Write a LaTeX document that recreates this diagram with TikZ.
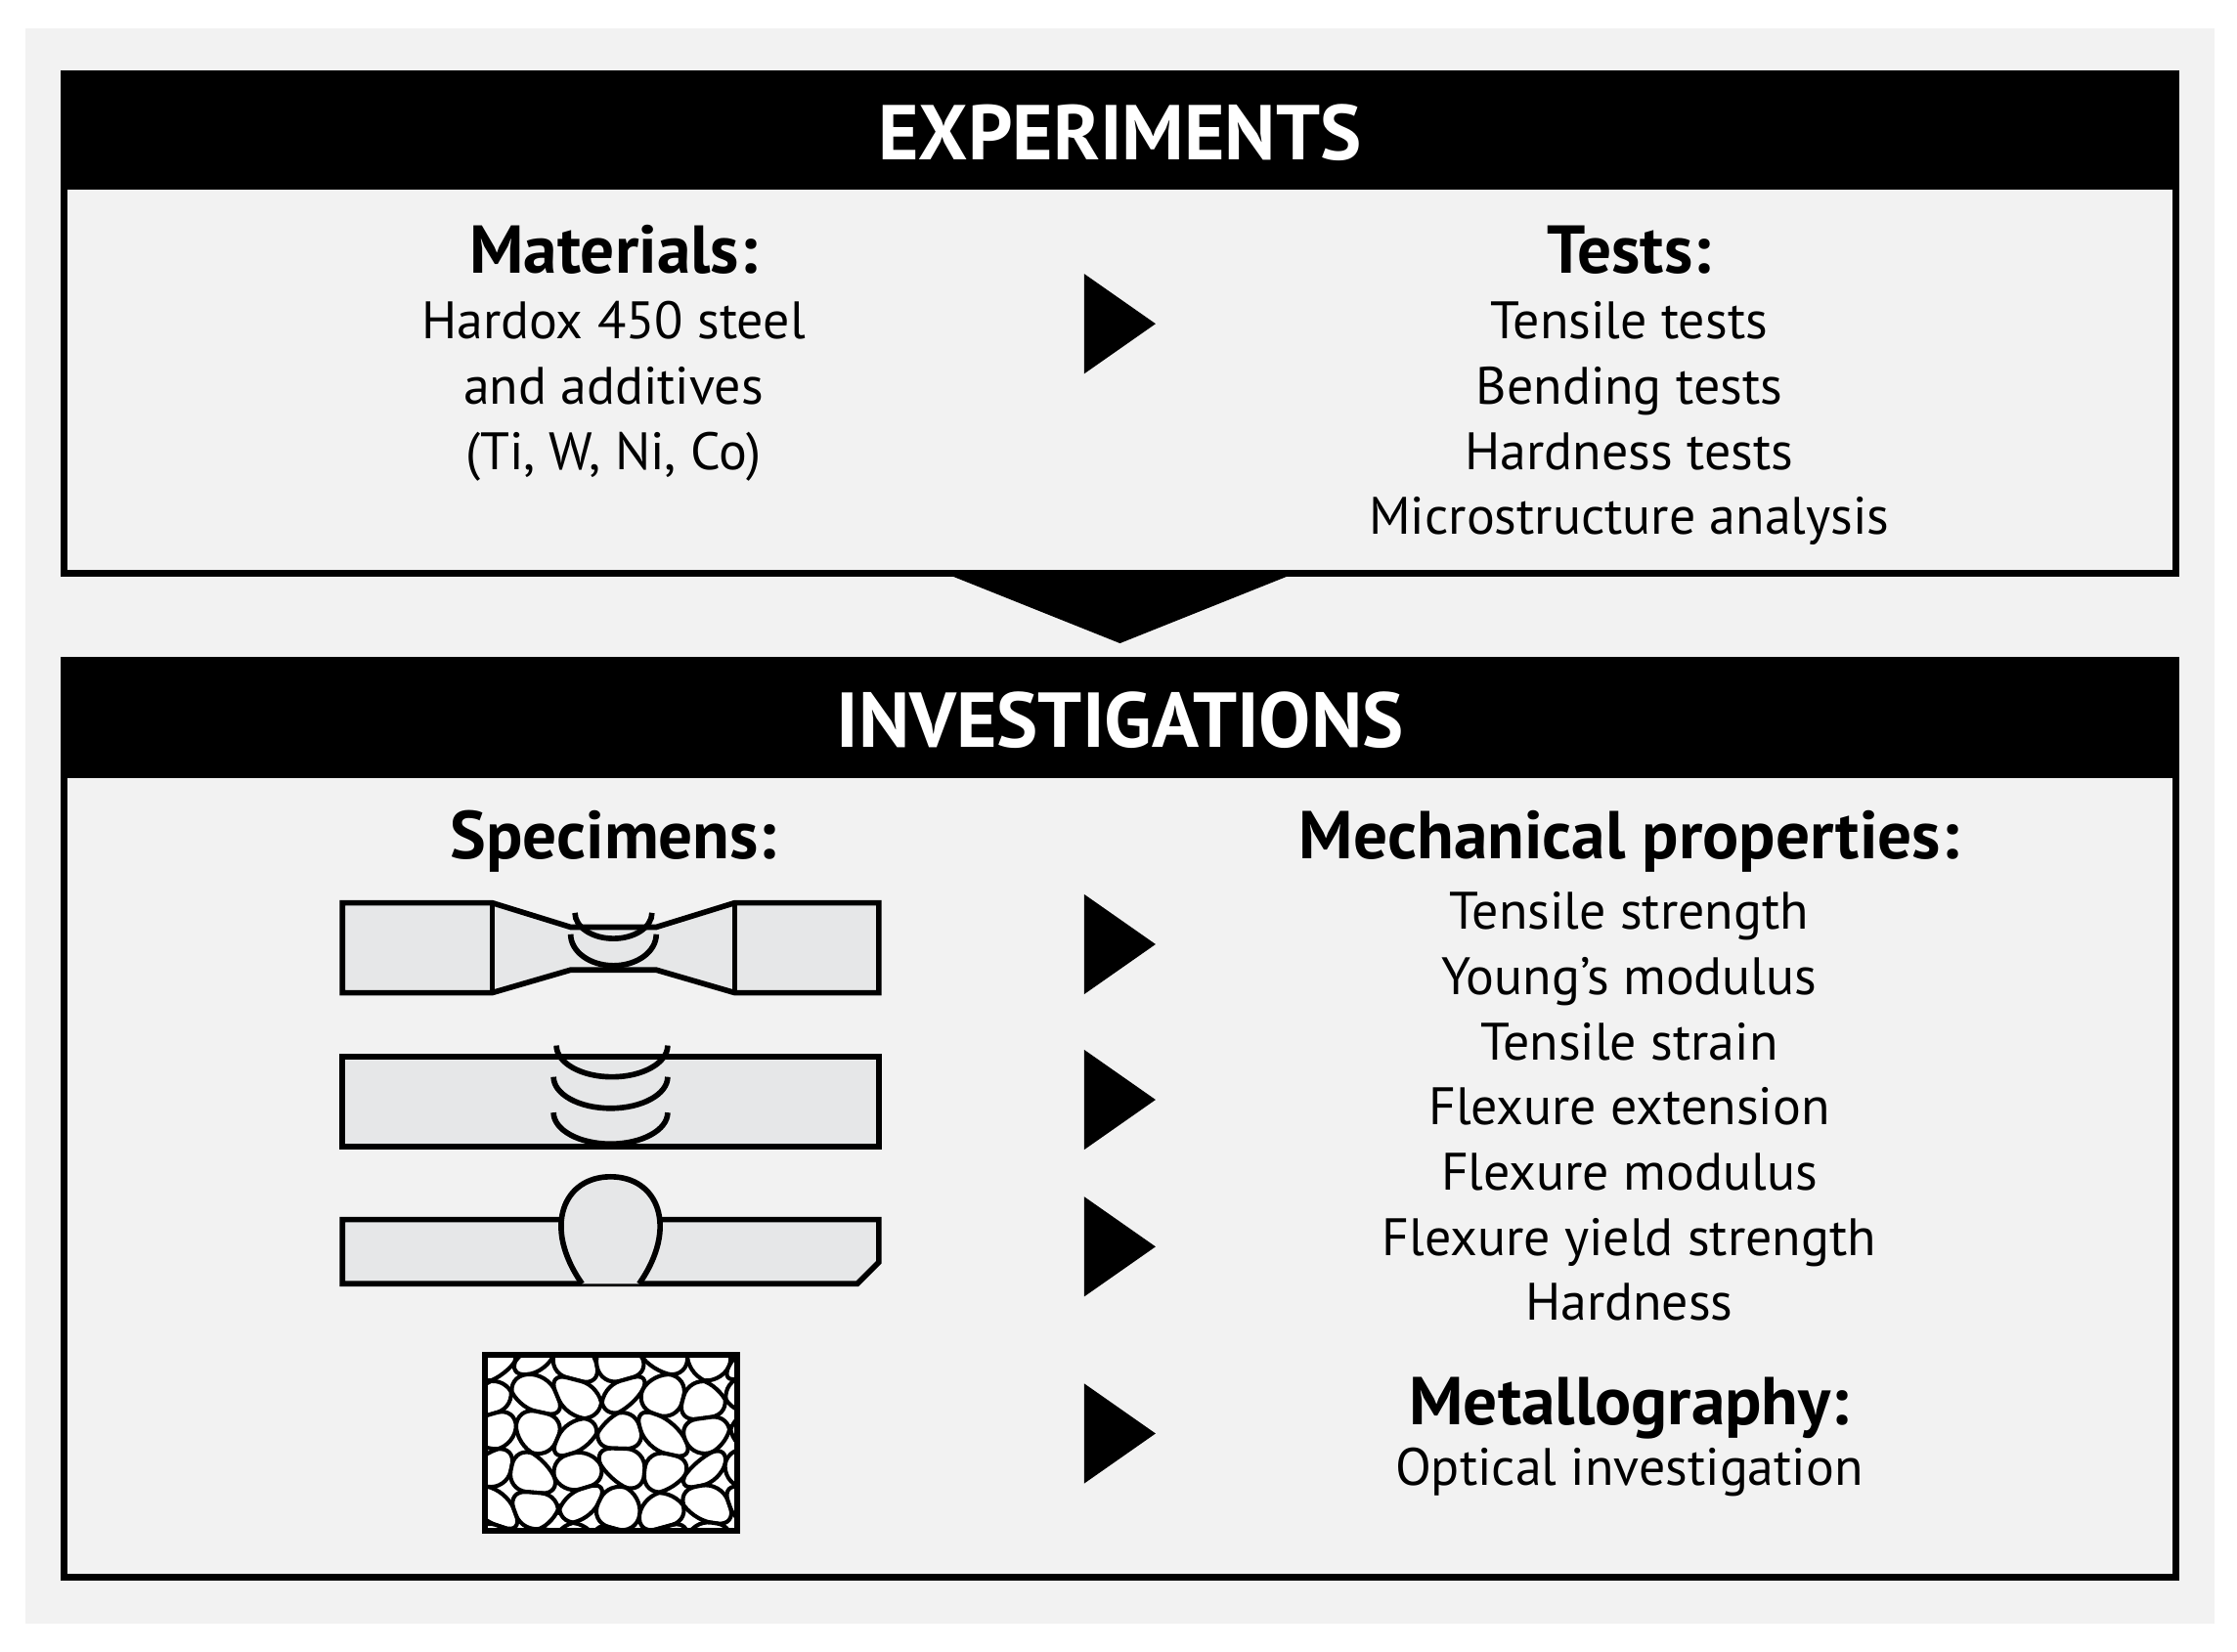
\documentclass[tikz,border=0pt]{standalone}
\usepackage{fontspec}
\setmainfont{PT Sans}
\begin{document}
\begin{tikzpicture}[x=0.01cm,y=-0.01cm,
  hdr/.style={fill=black,draw=black},
  box/.style={draw=black,line width=1.4pt,fill=boxgray},
  ttl/.style={text=white,font=\fontsize{15.5}{18}\selectfont\bfseries},
  sub/.style={font=\fontsize{13.5}{16}\selectfont\bfseries},
  txt/.style={font=\fontsize{10.5}{13}\selectfont,align=center},
  tri/.style={fill=black},
  spec/.style={draw=black,line width=1.1pt,fill=specgray},
  cell/.style={draw=black,line width=0.8pt,fill=white,rounded corners=4pt}]
\definecolor{boxgray}{HTML}{F2F2F2}
\definecolor{specgray}{HTML}{E6E7E8}
\useasboundingbox (0,0) rectangle (1568,1158);
\fill[white] (0,0) rectangle (1568,1158);
\fill[boxgray] (18,20) rectangle (1552,1138);
% experiments
\draw[box] (45,52) rectangle (1525,402);
\fill[hdr] (45,52) rectangle (1525,132);
\node[ttl] (exp) at (785,93) {EXPERIMENTS};
\node[sub] (mat) at (430,175) {Materials:};
\node[txt,anchor=north] (matt) at (430,199) {Hardox 450 steel\\and additives\\(Ti, W, Ni, Co)};
\node[sub] (tst) at (1142,175) {Tests:};
\node[txt,anchor=north] (tstt) at (1142,199) {Tensile tests\\Bending tests\\Hardness tests\\Microstructure analysis};
\fill[tri] (760,192) -- (810,227) -- (760,262) -- cycle;
\fill[black] (660,401) -- (910,401) -- (785,451) -- cycle;
% investigations
\draw[box] (45,463) rectangle (1525,1106);
\fill[hdr] (45,463) rectangle (1525,545);
\node[ttl] (inv) at (785,505) {INVESTIGATIONS};
\node[sub] (spc) at (430,590) {Specimens:};
\node[sub] (mech) at (1142,590) {Mechanical properties:};
\node[txt,anchor=north] (mecht) at (1142,613) {Tensile strength\\Young’s modulus\\Tensile strain\\Flexure extension\\Flexure modulus\\Flexure yield strength\\Hardness};
\node[sub] (met) at (1142,987) {Metallography:};
\node[txt] (opt) at (1142,1032) {Optical investigation};
\foreach \y in {662,771,874,1005}{\fill[tri] (760,\y-35) -- (810,\y) -- (760,\y+35) -- cycle;}
% specimen 1 dogbone
\draw[spec] (240,633) -- (345,633) -- (400,650) -- (460,650) -- (515,633) -- (616,633) -- (616,696) -- (515,696) -- (460,680) -- (400,680) -- (345,696) -- (240,696) -- cycle;
\draw[line width=1.1pt] (345,633) -- (345,696) (515,633) -- (515,696);
\draw[line width=1.1pt] (403,640) arc[start angle=180,end angle=0,x radius=27,y radius=18];
\draw[line width=1.1pt] (400,655) arc[start angle=180,end angle=0,x radius=30,y radius=22];
% specimen 2
\draw[spec] (240,741) rectangle (616,804);
\draw[line width=1.1pt] (390,733) arc[start angle=180,end angle=0,x radius=39,y radius=22];
\draw[line width=1.1pt] (388,755) arc[start angle=180,end angle=0,x radius=40,y radius=22];
\draw[line width=1.1pt] (388,780) arc[start angle=180,end angle=0,x radius=40,y radius=22];
% specimen 3
\draw[spec] (240,855) -- (616,855) -- (616,885) -- (601,900) -- (240,900) -- cycle;
\draw[line width=1.1pt,fill=specgray] (408,900) .. controls (380,860) and (395,825) .. (428,825) .. controls (461,825) and (476,860) .. (448,900);
% grains
\fill[white] (340,950) rectangle (517,1073);
\begin{scope}
\clip (340,950) rectangle (517,1073);
\foreach \i in {0,...,6}{\foreach \j in {0,...,5}{
 \pgfmathsetmacro{\ax}{330+\i*30+7*sin(\i*73+\j*151)}
 \pgfmathsetmacro{\ay}{940+\j*26+6*sin(\i*131+\j*59)}
 \pgfmathsetmacro{\bx}{360+\i*30+7*sin((\i+1)*73+\j*151)}
 \pgfmathsetmacro{\by}{940+\j*26+6*sin((\i+1)*131+\j*59)}
 \pgfmathsetmacro{\cx}{360+\i*30+7*sin((\i+1)*73+(\j+1)*151)}
 \pgfmathsetmacro{\cy}{966+\j*26+6*sin((\i+1)*131+(\j+1)*59)}
 \pgfmathsetmacro{\dx}{330+\i*30+7*sin(\i*73+(\j+1)*151)}
 \pgfmathsetmacro{\dy}{966+\j*26+6*sin(\i*131+(\j+1)*59)}
 \draw[cell] (\ax,\ay) -- (\bx,\by) -- (\cx,\cy) -- (\dx,\dy) -- cycle;
}}
\end{scope}
\draw[line width=1.2pt] (340,950) rectangle (517,1073);
\end{tikzpicture}
\end{document}
